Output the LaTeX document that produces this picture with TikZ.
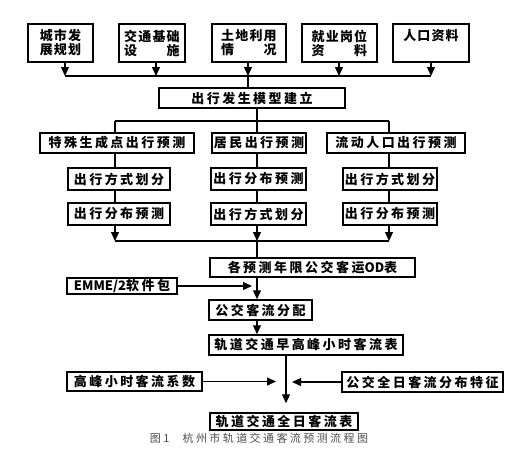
\documentclass[tikz,border=0pt]{standalone}
\usepackage{fontspec}
\usepackage{calc}
\usetikzlibrary{arrows.meta}
\newfontfamily\cjkw{Noto Sans CJK SC}[LetterSpace=19]
\newfontfamily\cjkn{Noto Sans CJK SC}[LetterSpace=9]
\newfontfamily\cjkp{Noto Sans CJK SC}
\newfontfamily\cjkc{Noto Sans CJK SC}[LetterSpace=22]
\newcommand{\jline}[3]{\makebox[\widthof{#1}][s]{#2\hfill#3}}
\begin{document}
\begin{tikzpicture}[x=1pt,y=-1pt,
  box/.style={draw, line width=1.5pt, inner sep=0pt, align=center, font=\cjkw\bfseries\fontsize{13}{14}\selectfont},
  topbox/.style={box, minimum height=38pt, font=\cjkn\bfseries\fontsize{13}{14}\selectfont},
  ln/.style={line width=1.3pt},
  arr/.style={ln, -{Triangle[width=8pt,length=9pt]}}]
\useasboundingbox (0,0) rectangle (530,464);
% top row
\node[topbox, minimum width=65pt] (b1) at (60.5,43) {城市发\\展规划};
\node[topbox, minimum width=66pt] (b2) at (152,43) {交通基础\\\jline{交通基础}{设}{施}};
\node[topbox, minimum width=74pt] (b3) at (249,43) {土地利用\\\jline{土地利用}{情}{况}};
\node[topbox, minimum width=75pt] (b4) at (339.5,43) {就业岗位\\\jline{就业岗位}{资}{料}};
\node[topbox, minimum width=76pt] (b5) at (431,43) {人口资料\\\phantom{人}};
\coordinate (bus1L) at (65,76);
\coordinate (bus1R) at (431,76);
\draw[ln] (bus1L) -- (bus1R);
\foreach \n/\x in {b1/65,b2/156,b3/248,b4/339,b5/431}
  \draw[arr] (\x,0 |- \n.south) -- (\x,76);
\node[box, minimum width=186pt, minimum height=20pt] (gen) at (252,98) {出行发生模型建立};
\draw[ln] (248,76) -- (248,0 |- gen.north);
% second bus
\coordinate (bus2L) at (115,121);
\coordinate (bus2R) at (389,121);
\draw[ln] (bus2L) -- (bus2R);
\draw[ln] (257,0 |- gen.south) -- (257,121);
% row 2
\node[box, minimum width=154pt, minimum height=20pt] (r2a) at (117,143) {特殊生成点出行预测};
\node[box, minimum width=94pt, minimum height=20pt] (r2b) at (259,143) {居民出行预测};
\node[box, minimum width=138pt, minimum height=20pt] (r2c) at (396,143) {流动人口出行预测};
\draw[ln] (bus2L) -- (115,0 |- r2a.north);
\draw[ln] (257,121) -- (257,0 |- r2b.north);
\draw[ln] (bus2R) -- (389,0 |- r2c.north);
% row 3
\node[box, minimum width=102pt, minimum height=22pt] (r3a) at (119,179) {出行方式划分};
\node[box, minimum width=95pt, minimum height=22pt] (r3b) at (258.5,179) {出行分布预测};
\node[box, minimum width=94pt, minimum height=22pt] (r3c) at (390,179) {出行方式划分};
% row 4
\node[box, minimum width=102pt, minimum height=22pt] (r4a) at (119,214) {出行分布预测};
\node[box, minimum width=95pt, minimum height=22pt] (r4b) at (258.5,214) {出行方式划分};
\node[box, minimum width=94pt, minimum height=22pt] (r4c) at (390,214) {出行分布预测};
\draw[ln] (115,0 |- r2a.south) -- (115,0 |- r3a.north);
\draw[ln] (257,0 |- r2b.south) -- (257,0 |- r3b.north);
\draw[ln] (389,0 |- r2c.south) -- (389,0 |- r3c.north);
\draw[ln] (115,0 |- r3a.south) -- (115,0 |- r4a.north);
\draw[ln] (257,0 |- r3b.south) -- (257,0 |- r4b.north);
\draw[ln] (389,0 |- r3c.south) -- (389,0 |- r4c.north);
\coordinate (bus3L) at (115,241);
\coordinate (bus3R) at (389,241);
\draw[ln] (bus3L) -- (bus3R);
\draw[arr] (115,0 |- r4a.south) -- (bus3L);
\draw[arr] (257,0 |- r4b.south) -- (257,241);
\draw[arr] (389,0 |- r4c.south) -- (bus3R);
% OD
\node[box, minimum width=205pt, minimum height=19pt] (od) at (312.5,267.5) {各预测年限公交客运{\cjkp\bfseries OD}表};
\draw[ln] (257,241) -- (257,0 |- od.north);
\node[box, minimum width=110pt, minimum height=16pt] (emme) at (122,286) {{\cjkp\bfseries EMME/2}软件包};
\node[box, minimum width=103pt, minimum height=20pt] (fp) at (260.5,310) {公交客流分配};
\coordinate (emmeTip) at (252,0 |- emme.east);
\draw[arr] (emme.east) -- (emmeTip);
\draw[arr] (257,0 |- od.south) -- (257,0 |- fp.north);
\node[box, minimum width=194pt, minimum height=20pt] (peak) at (306,345) {轨道交通早高峰小时客流表};
\draw[arr] (257,0 |- fp.south) -- (257,0 |- peak.north);
% bottom
\node[box, minimum width=135pt, minimum height=19pt] (coef) at (134.5,381.5) {高峰小时客流系数};
\node[box, minimum width=161pt, minimum height=20pt] (feat) at (422.5,382) {公交全日客流分布特征};
\node[box, minimum width=148pt, minimum height=17pt] (day) at (284,421.5) {轨道交通全日客流表};
\coordinate (coefTip) at (276,0 |- coef.east);
\coordinate (featTip) at (292,0 |- feat.west);
\draw[arr] (coef.east) -- (coefTip);
\draw[arr] (feat.west) -- (featTip);
\draw[arr, shorten >=9pt] (286,0 |- peak.south) -- (286,0 |- day.north);
% caption
\node[font=\cjkc\fontsize{11}{12}\selectfont, text=black!70, inner sep=0pt] (cap) at (259,438) {图1\hspace{1.2em}杭州市轨道交通客流预测流程图};
\end{tikzpicture}
\end{document}
